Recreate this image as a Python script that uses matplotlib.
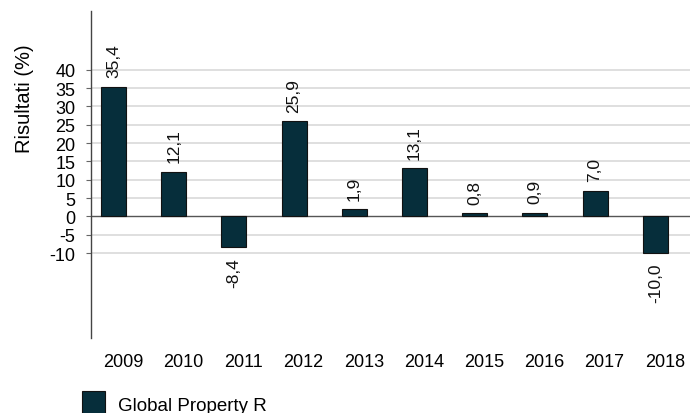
import numpy as np
import matplotlib
matplotlib.use('Agg')
import matplotlib.pyplot as plt

plt.rcParams['font.family'] = ['Liberation Sans', 'DejaVu Sans']

# returns per year (%)
years = ['2009', '2010', '2011', '2012', '2013', '2014', '2015', '2016', '2017', '2018']
returns = [35.4, 12.1, -8.4, 25.9, 1.9, 13.1, 0.8, 0.9, 7.0, -10.0]
series_name = 'Global Property R'
yticks = [-10, -5, 0, 5, 10, 15, 20, 25, 30, 35, 40]

bar_col = '#062e3b'

fig = plt.figure(figsize=(6.9, 4.14), dpi=100)
ax = fig.add_axes([0.132, 0.181, 0.868, 0.790])

x = np.arange(len(years))
bars = ax.bar(x - 0.157, returns, width=0.415, color=bar_col, edgecolor='#111111',
              linewidth=0.8, label=series_name, zorder=3)

for xi, v in zip(x, returns):
    lab = ('%.1f' % v).replace('.', ',')
    off = 7 if v >= 0 else -7
    ax.annotate(lab, (xi - 0.157, v), xytext=(0, off), textcoords='offset points',
                rotation=90, ha='center', va='bottom' if v >= 0 else 'top',
                fontsize=12.5, color='#111111')

ax.set_ylim(-33.2, 56.0)
ax.set_xlim(-0.53, 9.42)
ax.set_yticks(yticks)
ax.set_yticklabels([str(t) for t in yticks], fontsize=13)
ax.set_xticks(x)
ax.set_xticklabels(years, fontsize=13)
ax.tick_params(axis='x', length=0, pad=11)
ax.tick_params(axis='y', length=3.3, color='#666666', pad=8)

for t in yticks:
    if t == 0:
        ax.axhline(0, color='#555555', linewidth=1.0, zorder=2)
    else:
        ax.axhline(t, color='#d6d6d6', linewidth=1.1, zorder=1)

for s in ['top', 'right', 'bottom']:
    ax.spines[s].set_visible(False)
ax.spines['left'].set_color('#444444')
ax.spines['left'].set_linewidth(1.0)

ax.set_ylabel('Risultati (%)', fontsize=14.5)
ax.yaxis.set_label_coords(-0.096, 0.734)

# legend sits at the very bottom, square slightly clipped like the original
leg = fig.legend(handles=[bars], labels=[series_name], loc='lower left',
                 bbox_to_anchor=(0.095, -0.05), frameon=False, fontsize=13.5,
                 handlelength=1.2, handleheight=1.75, handletextpad=0.7)

plt.savefig('out.png', dpi=100)
